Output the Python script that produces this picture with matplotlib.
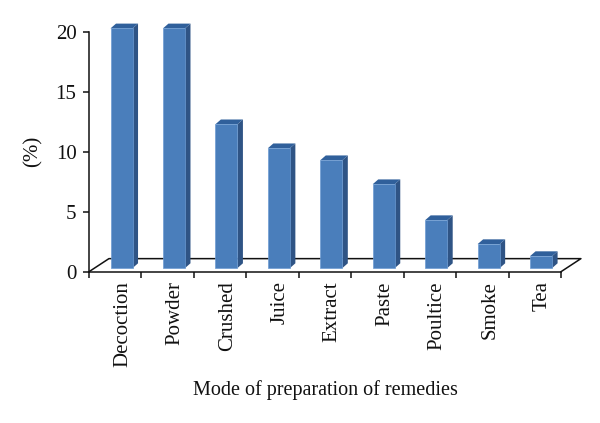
import matplotlib
matplotlib.use('Agg')
from matplotlib import pyplot as plt
from matplotlib.patches import Polygon

plt.rcParams['font.family'] = ['Liberation Serif', 'DejaVu Serif']

categories = ['Decoction', 'Powder', 'Crushed', 'Juice', 'Extract', 'Paste', 'Poultice', 'Smoke', 'Tea']
values = [20, 20, 12, 10, 9, 7, 4, 2, 1]
y_ticks = [0, 5, 10, 15, 20]

# fake 3d look, in data units
bar_w = 0.42
bar_shift = 0.12
bar_base = 0.3
dep_x = 0.105
dep_y = 0.4
floor_x = 0.38
floor_y = 1.09

W, H = 600, 423
fig = plt.figure(figsize=(W / 100, H / 100), dpi=100)
ax = fig.add_axes([89 / W, 1 - 271.7 / H, 472 / W, 239.7 / H])
ax.set_xlim(0, len(categories))
ax.set_ylim(0, 20)

# floor
n = len(categories)
ax.plot([0, floor_x, n + floor_x, n], [0, floor_y, floor_y, 0],
        color='#111111', lw=1.1, clip_on=False, zorder=1)

for i, v in enumerate(values):
    x0 = i + 0.5 + bar_shift - bar_w / 2
    x1 = x0 + bar_w
    top = bar_base + v
    ax.add_patch(Polygon([(x1, bar_base), (x1 + dep_x, bar_base + dep_y),
                          (x1 + dep_x, top + dep_y), (x1, top)],
                         fc='#2F5485', ec='none', clip_on=False, zorder=2))
    ax.add_patch(Polygon([(x0, top), (x0 + dep_x, top + dep_y),
                          (x1 + dep_x, top + dep_y), (x1, top)],
                         fc='#30609B', ec='none', clip_on=False, zorder=2))
    ax.bar(i + 0.5 + bar_shift, v, width=bar_w, bottom=bar_base, color='#4A7EBB',
           edgecolor='#6C9BD2', linewidth=0.5, clip_on=False, zorder=3)

for s in ['top', 'right']:
    ax.spines[s].set_visible(False)
for s in ['left', 'bottom']:
    ax.spines[s].set_linewidth(1.1)
    ax.spines[s].set_color('#111111')

ax.set_yticks(y_ticks)
ax.set_xticks(range(n + 1))
ax.set_xticklabels([])
ax.set_xticks([i + 0.5 + bar_shift + 0.02 for i in range(n)], minor=True)
ax.set_xticklabels(categories, minor=True, rotation=90, fontsize=15, color='#111111')
ax.tick_params(axis='x', which='major', length=4.5, width=1.1, color='#111111')
ax.tick_params(axis='x', which='minor', length=0, pad=7)
ax.tick_params(axis='y', length=4, width=1.1, color='#111111', pad=5, labelsize=15, labelcolor='#111111')

fig.text(33 / W, 1 - 151 / H, '(%)', rotation=90, fontsize=15, color='#111111', ha='center', va='center')
fig.text(325 / W, 1 - 390 / H, 'Mode of preparation of remedies', fontsize=14.5, color='#111111', ha='center', va='center')

fig.savefig('out.png', dpi=100, facecolor='white')
